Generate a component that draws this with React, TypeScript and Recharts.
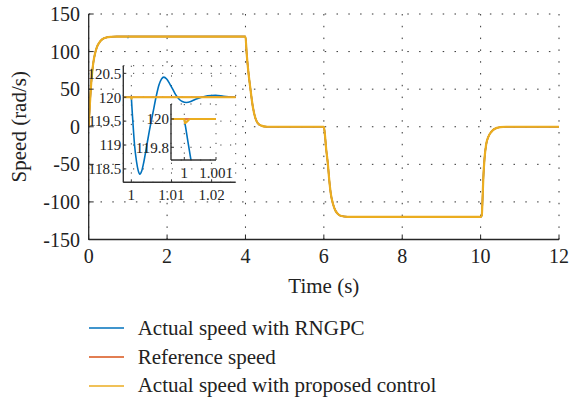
import React from 'react';
import { LineChart, Line, XAxis, YAxis, CartesianGrid, Legend, Label } from 'recharts';

const FONT = "'Liberation Serif', serif";
const INK = '#262626';

// time in seconds, dense around the load step at t = 1 s
const time = [
  0, 0.03, 0.06, 0.09, 0.12, 0.16, 0.21, 0.27, 0.35, 0.45, 0.58, 0.72,
  0.998, 1, 1.00002, 1.00005, 1.0001, 1.00018, 1.0003, 1.0005, 1.0008, 1.0013, 1.0017, 1.0021,
  1.0026, 1.0031, 1.0037, 1.0045, 1.0054, 1.0062, 1.0069, 1.0075, 1.0081, 1.0088, 1.0095,
  1.0103, 1.011, 1.0118, 1.0127, 1.0137, 1.0148, 1.016, 1.0175, 1.019, 1.021, 1.023, 1.026,
  4, 4.03, 4.07, 4.12, 4.19, 4.25, 4.31, 4.4, 4.55,
  6, 6.03, 6.06, 6.1, 6.14, 6.18, 6.23, 6.29, 6.36, 6.45, 6.6, 6.75,
  10, 10.03, 10.05, 10.07, 10.1, 10.14, 10.2, 10.27, 10.35, 10.5, 10.65, 12,
];

const rngpcSpeed = [
  0, 30, 55, 73, 86, 97, 106, 112, 116.5, 118.8, 119.7, 120,
  120, 120, 119.97, 119.93, 119.86, 119.75, 119.59, 119.34, 119.0, 118.65, 118.47, 118.39,
  118.46, 118.64, 118.92, 119.3, 119.68, 120.02, 120.26, 120.38, 120.42, 120.38, 120.29,
  120.17, 120.06, 119.97, 119.91, 119.89, 119.91, 119.96, 120.0, 120.03, 120.04, 120.02, 120,
  120, 98, 75, 53, 26, 12, 5, 1.5, 0,
  0, -12, -30, -48, -72, -90, -102, -111, -116, -118.8, -119.8, -120,
  -120, -118, -95, -67, -42, -24, -13, -7, -3, -0.5, 0, 0,
];

const referenceSpeed = [
  0, 30, 55, 73, 86, 97, 106, 112, 116.5, 118.8, 119.7, 120,
  120, 120, 120, 120, 120, 120, 120, 120, 120, 120, 120, 120,
  120, 120, 120, 120, 120, 120, 120, 120, 120, 120, 120,
  120, 120, 120, 120, 120, 120, 120, 120, 120, 120, 120, 120,
  120, 98, 75, 53, 26, 12, 5, 1.5, 0,
  0, -12, -30, -48, -72, -90, -102, -111, -116, -118.8, -119.8, -120,
  -120, -118, -95, -67, -42, -24, -13, -7, -3, -0.5, 0, 0,
];

const proposedSpeed = [
  0, 30, 55, 73, 86, 97, 106, 112, 116.5, 118.8, 119.7, 120,
  120, 120, 119.97, 119.975, 119.985, 120, 120, 120, 120, 120, 120, 120,
  120, 120, 120, 120, 120, 120, 120, 120, 120, 120, 120,
  120, 120, 120, 120, 120, 120, 120, 120, 120, 120, 120, 120,
  120, 98, 75, 53, 26, 12, 5, 1.5, 0,
  0, -12, -30, -48, -72, -90, -102, -111, -116, -118.8, -119.8, -120,
  -120, -118, -95, -67, -42, -24, -13, -7, -3, -0.5, 0, 0,
];

const mainXTicks = [0, 2, 4, 6, 8, 10, 12];
const mainYTicks = [-150, -100, -50, 0, 50, 100, 150];
const zoomXTicks = [1, 1.01, 1.02];
const zoomYTicks = [118.5, 119, 119.5, 120, 120.5];
const fineXTicks = [1, 1.001];
const fineYTicks = [119.8, 120];

const seriesNames = ['Actual speed with RNGPC', 'Reference speed', 'Actual speed with proposed control'];
const seriesKeys = ['rngpc', 'reference', 'proposed'];
const seriesColors = ['#0072BD', '#D95319', '#EBAD20'];

const data = time.map((t, i) => ({
  t,
  rngpc: rngpcSpeed[i],
  reference: referenceSpeed[i],
  proposed: proposedSpeed[i],
}));

const renderLines = (widths: number[]) =>
  seriesKeys.map((key, i) => (
    <Line
      key={key}
      type="monotone"
      dataKey={key}
      name={seriesNames[i]}
      stroke={seriesColors[i]}
      strokeWidth={widths[i]}
      dot={false}
      activeDot={false}
      isAnimationActive={false}
    />
  ));

const renderLegend = (props: any) => {
  const items = [...(props.payload || [])].sort(
    (a: any, b: any) => seriesNames.indexOf(a.value) - seriesNames.indexOf(b.value)
  );
  return (
    <div style={{ fontFamily: FONT, fontSize: 21, color: '#222' }}>
      {items.map((entry: any) => (
        <div key={entry.value} style={{ display: 'flex', alignItems: 'center', height: 28.8 }}>
          <svg width={35} height={4}>
            <line x1={0} x2={35} y1={2} y2={2} stroke={entry.color} strokeWidth={1.6} />
          </svg>
          <span style={{ marginLeft: 14, whiteSpace: 'nowrap' }}>{entry.value}</span>
        </div>
      ))}
    </div>
  );
};

const SpeedLabel = (props: any) => {
  const { x, y, height } = props.viewBox;
  const cx = x + 19;
  const cy = y + height / 2;
  return (
    <text
      x={cx}
      y={cy}
      transform={`rotate(-90, ${cx}, ${cy})`}
      textAnchor="middle"
      dominantBaseline="central"
      fontFamily={FONT}
      fontSize={21}
      fill="#222"
    >
      Speed (rad/s)
    </text>
  );
};

type InsetProps = {
  left: number;
  top: number;
  width: number;
  height: number;
  margin: { top: number; right: number; bottom: number; left: number };
  yAxisWidth: number;
  xAxisHeight: number;
  xDomain: [number, number];
  yDomain: [number, number];
  xTicks: number[];
  yTicks: number[];
  xTickMargin: number;
  yTickMargin: number;
};

const Inset = (p: InsetProps) => {
  const axisLine = { stroke: '#333', strokeWidth: 1.4 };
  const tick = { fontSize: 15, fill: '#222', fontFamily: FONT };
  return (
    <div style={{ position: 'absolute', left: p.left, top: p.top }}>
      <LineChart width={p.width} height={p.height} data={data} margin={p.margin}>
        <CartesianGrid fill="#fff" stroke="#444" strokeDasharray="1.2 8.5" strokeWidth={1} />
        <XAxis
          type="number"
          dataKey="t"
          domain={p.xDomain}
          allowDataOverflow
          ticks={p.xTicks}
          interval={0}
          height={p.xAxisHeight}
          tickSize={-3}
          tickMargin={p.xTickMargin}
          axisLine={axisLine}
          tickLine={{ stroke: '#333' }}
          tick={tick}
        />
        <XAxis xAxisId="top" orientation="top" type="number" domain={p.xDomain} allowDataOverflow ticks={p.xTicks} height={0} tickSize={-3} tick={false} axisLine={axisLine} tickLine={{ stroke: '#333' }} />
        <YAxis
          type="number"
          domain={p.yDomain}
          allowDataOverflow
          ticks={p.yTicks}
          interval={0}
          width={p.yAxisWidth}
          tickSize={-3}
          tickMargin={p.yTickMargin}
          axisLine={axisLine}
          tickLine={{ stroke: '#333' }}
          tick={tick}
        />
        <YAxis yAxisId="right" orientation="right" type="number" domain={p.yDomain} allowDataOverflow ticks={p.yTicks} width={0} tickSize={-3} tick={false} axisLine={axisLine} tickLine={{ stroke: '#333' }} />
        {renderLines([1.6, 1.6, 2.2])}
      </LineChart>
    </div>
  );
};

export default function App() {
  const axisLine = { stroke: INK, strokeWidth: 1.3 };
  const tick = { fontSize: 20, fill: '#222', fontFamily: FONT };
  return (
    <div style={{ position: 'absolute', left: 0, top: 0, width: 570, height: 402, background: '#fff', fontFamily: FONT }}>
      <LineChart width={570} height={402} data={data} margin={{ top: 14, right: 11, bottom: 102.5, left: 0 }}>
        <CartesianGrid stroke="#333" strokeDasharray="1.5 10.3" strokeWidth={1} />
        <XAxis
          type="number"
          dataKey="t"
          domain={[0, 12]}
          allowDataOverflow
          ticks={mainXTicks}
          interval={0}
          height={60}
          tickSize={-5}
          tickMargin={14}
          axisLine={axisLine}
          tickLine={{ stroke: INK }}
          tick={tick}
          label={{ value: 'Time (s)', position: 'insideBottom', offset: 6.5, fontSize: 21, fill: '#222', fontFamily: FONT }}
        />
        <XAxis xAxisId="top" orientation="top" type="number" domain={[0, 12]} allowDataOverflow ticks={mainXTicks} height={0} tickSize={-5} tick={false} axisLine={axisLine} tickLine={{ stroke: INK }} />
        <YAxis
          type="number"
          domain={[-150, 150]}
          allowDataOverflow
          ticks={mainYTicks}
          interval={0}
          width={88.7}
          tickSize={-5}
          tickMargin={13.7}
          axisLine={axisLine}
          tickLine={{ stroke: INK }}
          tick={tick}
        >
          <Label content={SpeedLabel} />
        </YAxis>
        <YAxis yAxisId="right" orientation="right" type="number" domain={[-150, 150]} allowDataOverflow ticks={mainYTicks} width={0} tickSize={-5} tick={false} axisLine={axisLine} tickLine={{ stroke: INK }} />
        {renderLines([1.5, 1.5, 2.2])}
        <Legend
          layout="vertical"
          align="center"
          verticalAlign="middle"
          wrapperStyle={{ left: 88.7, top: 314, width: 440, height: 90 }}
          content={renderLegend}
        />
      </LineChart>
      <Inset
        left={60}
        top={60}
        width={180}
        height={152.3}
        margin={{ top: 5.7, right: 4.3, bottom: 0, left: 0 }}
        yAxisWidth={63.3}
        xAxisHeight={30}
        xDomain={[0.998, 1.026]}
        yDomain={[118.22, 120.66]}
        xTicks={zoomXTicks}
        yTicks={zoomYTicks}
        xTickMargin={10}
        yTickMargin={5}
      />
      <Inset
        left={130}
        top={95}
        width={106}
        height={90}
        margin={{ top: 9, right: 20, bottom: 0, left: 0 }}
        yAxisWidth={41}
        xAxisHeight={25}
        xDomain={[0.99958, 1.001]}
        yDomain={[119.71, 120.106]}
        xTicks={fineXTicks}
        yTicks={fineYTicks}
        xTickMargin={10.5}
        yTickMargin={5}
      />
    </div>
  );
}
